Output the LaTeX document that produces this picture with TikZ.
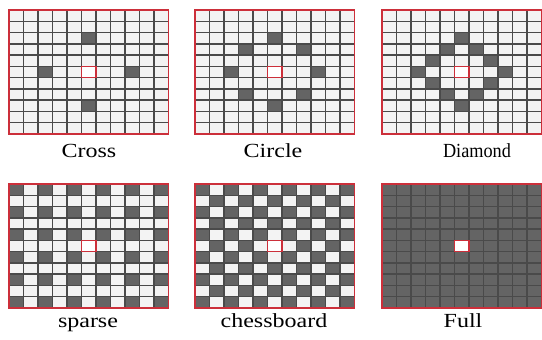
\documentclass[tikz,border=0pt]{standalone}
\usepackage{fontspec}
\setmainfont{Liberation Serif}
\usepackage{xcolor}
\usepackage{tikz}
\definecolor{GridLine}{HTML}{4A4A4A}
\definecolor{CellLight}{HTML}{F3F3F3}
\definecolor{CellDark}{HTML}{646464}
\definecolor{BorderRed}{HTML}{CC2F3A}

\tikzset{
  panel/.style={shift={#1}, x=14.5pt, y=-11.27pt},
  gridline/.style={draw=GridLine, line width=1.5pt},
  redline/.style={draw=BorderRed, line width=1.4pt},
  captext/.style={font=\fontsize{20}{22}\selectfont, anchor=base, xscale=1.2, inner sep=0pt}
}
% lines of the 11x11 grid, centre cell and red frame
\newcommand{\gridlines}{%
  \foreach \i in {1,...,10}{
    \draw[gridline] (\i,0) -- (\i,11);
    \draw[gridline] (0,\i) -- (11,\i);
  }
  \fill[white] (5,5) rectangle (6,6);
  \draw[redline] (5,5) rectangle (6,6);
  \draw[redline] (0,0) rectangle (11,11);
}

\begin{document}
\begin{tikzpicture}[x=1pt, y=-1pt]
  \useasboundingbox (0,0) rectangle (542,340);

  % top row
  \begin{scope}[panel={(9,10)}]
    \fill[CellLight] (0,0) rectangle (11,11);
    \foreach \c/\r in {5/2,2/5,8/5,5/8}
      \fill[CellDark] (\c,\r) rectangle ++(1,1);
    \gridlines
  \end{scope}
  \begin{scope}[panel={(195,10)}]
    \fill[CellLight] (0,0) rectangle (11,11);
    \foreach \c/\r in {5/2,3/3,7/3,2/5,8/5,3/7,7/7,5/8}
      \fill[CellDark] (\c,\r) rectangle ++(1,1);
    \gridlines
  \end{scope}
  \begin{scope}[panel={(382,10)}]
    \fill[CellLight] (0,0) rectangle (11,11);
    \foreach \c/\r in {5/2,4/3,6/3,3/4,7/4,2/5,8/5,3/6,7/6,4/7,6/7,5/8}
      \fill[CellDark] (\c,\r) rectangle ++(1,1);
    \gridlines
  \end{scope}

  % bottom row
  \begin{scope}[panel={(9,184)}]
    \fill[CellLight] (0,0) rectangle (11,11);
    \foreach \c in {0,2,...,10}
      \foreach \r in {0,2,...,10}
        \fill[CellDark] (\c,\r) rectangle ++(1,1);
    \gridlines
  \end{scope}
  \begin{scope}[panel={(195,184)}]
    \fill[CellLight] (0,0) rectangle (11,11);
    \foreach \c in {0,...,10}
      \foreach \r in {0,...,10}{
        \pgfmathtruncatemacro\odd{mod(\c+\r,2)}
        \ifnum\odd=0 \fill[CellDark] (\c,\r) rectangle ++(1,1); \fi
      }
    \gridlines
  \end{scope}
  \begin{scope}[panel={(382,184)}]
    \fill[CellDark] (0,0) rectangle (11,11);
    \gridlines
  \end{scope}

  % names
  \node[captext] (cross-name) at (89,157) {Cross};
  \node[captext] (circle-name) at (273,157) {Circle};
  \node[captext, xscale=0.76] (diamond-name) at (477,157) {Diamond};
  \node[captext] (sparse-name) at (88,327) {sparse};
  \node[captext] (chess-name) at (274,327) {chessboard};
  \node[captext] (full-name) at (463,327) {Full};
\end{tikzpicture}
\end{document}
